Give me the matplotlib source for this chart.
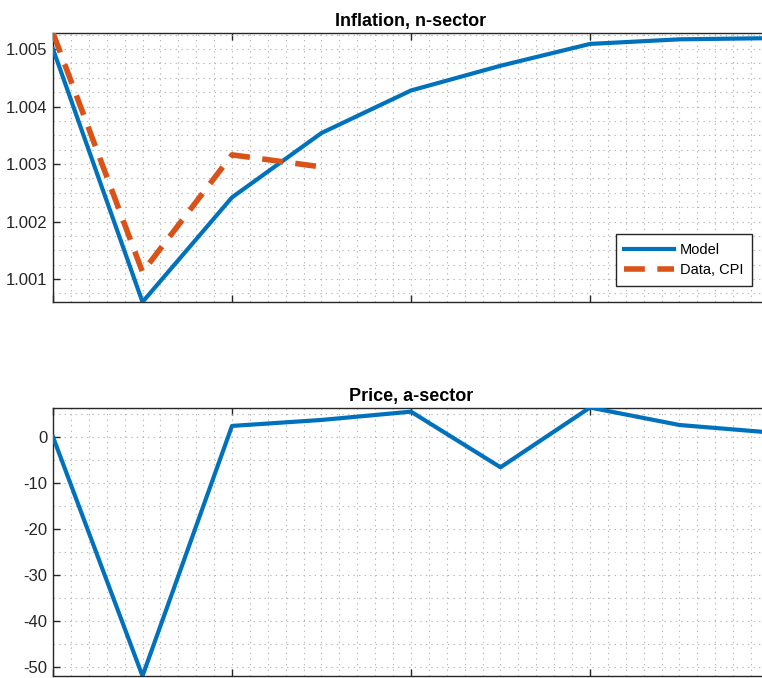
import numpy as np
import matplotlib
matplotlib.use('Agg')
import matplotlib.pyplot as plt
from matplotlib.ticker import MultipleLocator

plt.rcParams['font.family'] = ['Liberation Sans', 'DejaVu Sans']
plt.rcParams['lines.scale_dashes'] = False
plt.rcParams['axes.unicode_minus'] = False

# impulse responses, periods 0..8
periods = [0, 1, 2, 3, 4, 5, 6, 7, 8]
infl_model = [1.00500, 1.00060, 1.00242, 1.00354, 1.00428, 1.00471, 1.00509, 1.00517, 1.00519]
cpi_periods = [0, 1, 2, 3]
infl_cpi = [1.00528, 1.00112, 1.00316, 1.00295]
price_a = [0.0, -52.0, 2.4, 3.7, 5.5, -6.6, 6.4, 2.6, 1.0]

BLUE = '#0072BD'
ORANGE = '#D95319'
AXCOL = '#262626'

fig = plt.figure(figsize=(7.62, 6.78), dpi=100)
W, H = 762, 678


def add_axes(top, bottom):
    left, right = 53, 769
    return fig.add_axes([left / W, (H - bottom) / H, (right - left) / W, (bottom - top) / H])


def style(ax, ymajor, yminor):
    ax.set_xlim(0, 8)
    ax.xaxis.set_major_locator(MultipleLocator(2))
    ax.xaxis.set_minor_locator(MultipleLocator(0.2))
    ax.yaxis.set_major_locator(MultipleLocator(ymajor))
    ax.yaxis.set_minor_locator(MultipleLocator(yminor))
    ax.set_xticklabels([])
    ax.tick_params(which='major', direction='in', length=5, width=1, colors=AXCOL,
                   labelsize=12, top=True, right=False, pad=4)
    ax.tick_params(which='minor', length=0)
    ax.grid(which='both', linestyle=(0, (1, 3)), color='#b8b8b8', linewidth=0.8)
    ax.set_axisbelow(True)
    for s in ax.spines.values():
        s.set_color(AXCOL)
        s.set_linewidth(1)
    for lbl in ax.get_yticklabels():
        lbl.set_color(AXCOL)


# top panel: inflation in the n-sector
ax1 = add_axes(33, 302)
ax1.plot(periods, infl_model, color=BLUE, lw=3, label='Model', zorder=3)
ax1.plot(cpi_periods, infl_cpi, color=ORANGE, lw=4, dashes=(15, 9),
         label='Data, CPI', zorder=3)
ax1.set_ylim(1.0006, 1.00528)
style(ax1, 0.001, 0.00025)
ax1.set_yticks([1.001, 1.002, 1.003, 1.004, 1.005])
ax1.set_yticklabels(['1.001', '1.002', '1.003', '1.004', '1.005'])
ax1.set_title('Inflation, n-sector', fontsize=13, fontweight='bold', pad=5)
leg = ax1.legend(loc='lower right', bbox_to_anchor=(752 / W, (H - 286) / H),
                 bbox_transform=fig.transFigure, borderaxespad=0, fontsize=10.5,
                 handlelength=3.4, handletextpad=0.4, borderpad=0.6,
                 labelspacing=0.45, fancybox=False, framealpha=1)
leg.get_frame().set_edgecolor(AXCOL)
leg.get_frame().set_linewidth(1)

# bottom panel: price in the a-sector
ax2 = add_axes(408, 676)
ax2.plot(periods, price_a, color=BLUE, lw=3, zorder=3)
ax2.set_ylim(-52, 6.3)
style(ax2, 10, 5)
ax2.set_title('Price, a-sector', fontsize=13, fontweight='bold', pad=5)

fig.savefig('out.png', dpi=100)
